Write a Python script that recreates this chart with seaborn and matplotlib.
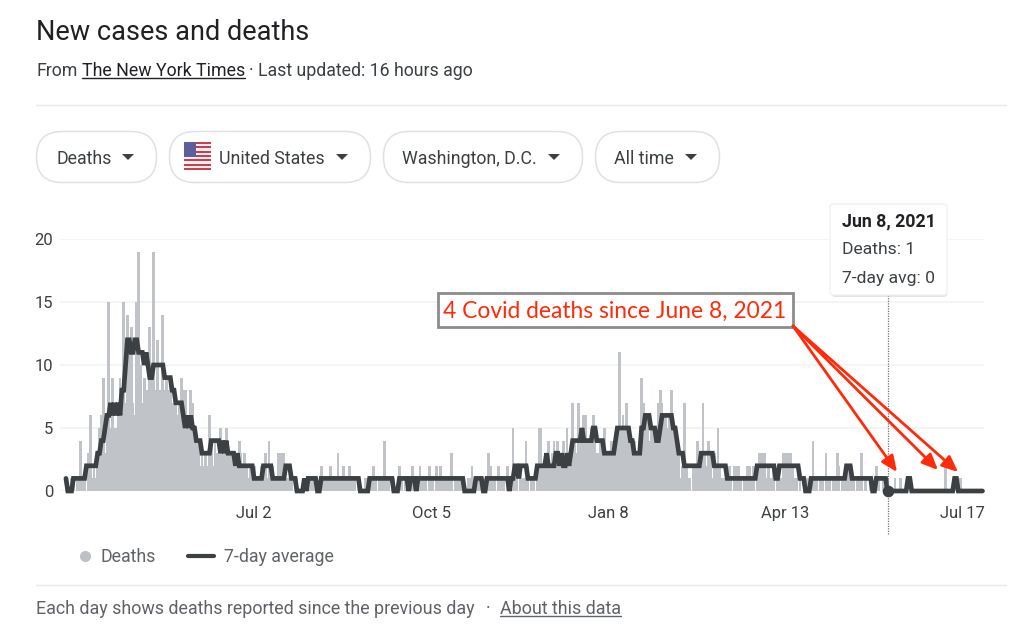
import matplotlib
matplotlib.use("Agg")
import matplotlib.pyplot as plt
from matplotlib.patches import FancyBboxPatch, Rectangle
import numpy as np
import seaborn as sns

# daily values
deaths = [
    1,0,0,1,1,0,1,1,4,1, 1,0,3,6,1,2,1,3,5,6, 9,3,5,15,5,9,5,5,7,9, 8,15,7,14,11,13,7,6,15,19,
    10,7,9,8,8,13,10,19,8,12, 8,8,14,8,9,8,9,7,8,7, 6,7,9,8,8,5,6,8,7,5, 4,4,2,3,2,3,2,6,4,2,
    4,3,3,5,3,3,5,4,3,3, 3,2,2,4,3,2,3,2,1,2, 2,2,1,1,1,2,2,3,1,4, 1,2,1,1,3,3,3,3,1,1,
    1,1,0,1,1,0,0,0,1,0, 1,1,1,1,1,0,0,2,1,1, 1,1,2,1,1,1,3,1,1,2, 1,1,2,1,1,1,0,1,0,0,
    0,1,1,0,1,2,1,0,1,1, 1,4,1,1,0,1,1,0,0,2, 1,0,1,1,1,1,2,1,0,1, 2,1,1,1,0,2,1,1,0,2,
    1,2,1,1,0,1,1,3,0,1, 1,0,1,0,0,0,1,1,2,0, 0,1,1,1,1,0,1,3,2,1, 1,0,2,1,1,1,0,2,0,1,
    5,1,1,0,2,1,1,4,2,0, 1,1,0,1,5,5,2,2,2,4, 2,3,4,2,4,3,2,4,2,5, 3,3,7,4,3,7,4,4,6,6,
    4,4,5,6,5,3,3,4,3,5, 3,3,3,4,4,3,5,11,5,6, 5,7,4,4,3,4,3,3,4,9, 7,6,6,4,5,5,5,5,7,8,
    7,6,6,5,6,8,5,4,3,3, 1,2,7,2,1,1,0,2,2,4, 3,2,7,3,2,4,3,1,3,2, 5,2,1,1,1,1,2,1,0,2,
    2,2,1,0,1,1,2,2,1,2, 0,1,3,3,3,3,1,2,1,1, 2,0,1,1,1,3,3,3,3,3, 2,1,1,0,1,0,0,0,1,0,
    0,4,1,1,0,1,1,0,3,1, 1,0,1,1,3,2,0,1,1,2, 2,1,1,1,0,1,1,3,0,1, 0,0,1,0,0,2,1,0,0,1,
    1,1,0,0,0,1,0,0,1,0, 0,0,1,0,0,0,0,0,0,0, 0,0,0,0,0,0,0,0,0,0, 0,0,2,0,0,0,0,1,1,0,
    1,0,0,0,0,0,0,0,0,0,0,0,0,
]
avg_7day = [
    1,0,0,0,1,1,1,1,1,1, 1,2,2,2,2,2,2,3,3,4, 4,5,6,6,7,6,7,6,7,6, 8,8,10,12,12,11,11,12,12,11,
    11,11,10,11,10,9,9,10,10,10, 10,10,10,9,9,9,9,8,8,7, 7,7,7,6,5,6,5,6,5,5, 4,4,4,3,3,3,3,3,4,4,
    4,4,4,3,4,3,4,3,3,3, 3,2,3,2,2,2,2,2,2,2, 2,1,1,1,1,1,2,2,2,2, 2,1,1,1,1,1,1,1,2,2,
    2,1,1,1,0,0,0,0,1,0, 1,1,1,1,1,0,0,1,1,1, 1,1,1,1,1,1,1,1,1,1, 1,1,1,1,1,1,1,1,0,0,
    0,0,0,1,1,1,1,1,1,1, 1,1,1,1,1,1,0,0,0,1, 1,1,1,1,0,1,1,1,0,1, 1,1,1,1,1,1,1,1,1,1,
    1,1,1,1,1,1,1,1,1,1, 1,1,1,1,0,0,0,0,0,0, 1,1,1,1,0,0,1,1,1,1, 1,1,1,1,1,1,1,1,0,1,
    1,2,2,1,2,2,2,2,1,1, 1,1,1,2,2,2,2,2,3,2, 2,2,2,3,3,2,3,2,2,3, 2,3,4,4,4,4,4,5,4,4,
    4,4,4,5,5,4,4,4,4,3, 3,3,3,3,3,4,5,5,5,5, 5,5,5,4,4,3,3,3,3,5, 5,6,6,6,5,5,5,4,4,5,
    6,6,6,6,6,6,5,5,4,3, 3,3,2,2,2,2,2,2,2,2, 2,3,3,3,3,3,3,3,2,2, 2,2,2,2,2,1,1,1,1,1,
    1,1,1,1,1,1,1,1,1,1, 1,2,2,2,2,2,2,2,2,2, 2,1,1,2,2,2,2,2,2,2, 2,2,2,2,1,1,1,0,0,0,
    1,1,1,1,1,1,1,1,1,1, 1,1,1,1,1,1,1,1,1,2, 2,2,1,1,1,1,1,1,1,1, 1,1,1,0,0,1,1,1,1,1,
    1,0,0,0,0,0,0,0,0,0, 0,0,1,1,0,0,0,0,0,0, 0,0,0,0,0,0,0,0,0,0, 0,0,0,0,0,0,0,1,1,0,
    0,0,0,0,0,0,0,0,0,0,0,0,0,
]
days = list(range(len(deaths)))
tick_days = [101, 196, 291, 386, 481]
tick_labels = ["Jul 2", "Oct 5", "Jan 8", "Apr 13", "Jul 17"]
y_ticks = [0, 5, 10, 15, 20]
selected_day = 441
selected_value = 0

W, H = 1024, 631
DARK = "#3c4043"
GRAY = "#5f6368"
RULE = "#e8eaed"
RED = "#ff2a0a"

sns.set_theme(style="white")
plt.rcParams["font.family"] = ["Roboto", "DejaVu Sans"]

fig = plt.figure(figsize=(W / 100, H / 100), dpi=100)

# chart area, placed in pixels
ax = fig.add_axes([60 / W, 1 - 491 / H, 924 / W, 252 / H])
# a bit wider than one day: the bars in the screenshot are blurred together
sns.barplot(x=days, y=deaths, native_scale=True, width=1.5, color="#c0c3c8", saturation=1,
            linewidth=0, ax=ax, zorder=2)
sns.lineplot(x=days, y=avg_7day, color=DARK, linewidth=3.4, ax=ax, zorder=3, clip_on=False,
             solid_joinstyle="miter", errorbar=None)
ax.set_xlim(-3.2, 492.8)
ax.set_ylim(0, 20)
ax.set_xticks(tick_days)
ax.set_xticklabels(tick_labels)
ax.set_yticks(y_ticks)
ax.set_xlabel("")
ax.set_ylabel("")
ax.grid(axis="y", color="#f1f3f4", linewidth=1.2, zorder=0)
ax.set_axisbelow(True)
sns.despine(ax=ax, left=True, bottom=True, top=True, right=True)
ax.tick_params(axis="x", length=6, width=0.8, color="#dadce0", labelsize=12, labelcolor=DARK, pad=5)
ax.tick_params(axis="y", length=0, labelsize=12, labelcolor=DARK, pad=5)

# hover marker
ax.vlines(selected_day, -3.4, 15.6, color="#70757a", linewidth=0.9, linestyles=(0, (1, 1)),
          clip_on=False, zorder=4)
sns.scatterplot(x=[selected_day], y=[selected_value], color=DARK, s=70, linewidth=0, ax=ax,
                clip_on=False, zorder=5)

# page furniture, in pixel coordinates
ui = fig.add_axes([0, 0, 1, 1], zorder=10)
ui.set_xlim(0, W)
ui.set_ylim(H, 0)
ui.axis("off")
ui.patch.set_alpha(0)

ui.text(36, 33, "New cases and deaths", fontsize=19.5, color="#202124", va="center")
ui.text(36, 71, "From", fontsize=12.8, color=DARK, va="center")
ui.text(82, 71, "The New York Times", fontsize=12.8, color="#202124", va="center")
ui.plot([82, 245], [77.5, 77.5], color="#202124", lw=1)
ui.text(249, 71, "· Last updated: 16 hours ago", fontsize=12.8, color=DARK, va="center")
ui.plot([36, 1006], [105, 105], color=RULE, lw=1)
ui.plot([36, 1006], [585, 585], color=RULE, lw=1)

pills = [(36, 157, "Deaths", 56), (169, 371, "United States", 219),
         (383, 583, "Washington, D.C.", 402), (595, 720, "All time", 614)]
for left, right, label, text_x in pills:
    ui.add_patch(FancyBboxPatch((left + 0.5, 131.5), right - left - 1, 51,
                                boxstyle="round,pad=0,rounding_size=25.5",
                                fc="white", ec="#dfe1e5", lw=1.1))
    ui.text(text_x, 159, label, fontsize=12.8, color=DARK, va="center")
    ui.fill([right - 35, right - 23, right - 29], [154, 154, 160], color=DARK, lw=0)

# flag
for s in range(13):
    ui.add_patch(Rectangle((184, 142 + s * 28 / 13), 27, 28 / 13,
                           fc="#c8404f" if s % 2 == 0 else "#f4f0f0", ec="none"))
ui.add_patch(Rectangle((184, 142), 12, 15, fc="#5b5f9c", ec="none"))

# legend
ui.scatter([85], [556], s=64, color="#bdc1c6", linewidths=0)
ui.text(100, 557.5, "Deaths", fontsize=12.8, color=GRAY, va="center")
ui.plot([188, 214], [556, 556], color=DARK, lw=3, solid_capstyle="round")
ui.text(224, 557.5, "7-day average", fontsize=12.8, color=GRAY, va="center")

# footer
ui.text(36, 609, "Each day shows deaths reported since the previous day", fontsize=12.9, color=GRAY, va="center")
ui.text(486, 609, "·", fontsize=12.9, color=GRAY, va="center")
ui.text(500, 609, "About this data", fontsize=12.9, color=GRAY, va="center")
ui.plot([500, 621], [616, 616], color=GRAY, lw=1)

# tooltip
ui.add_patch(FancyBboxPatch((832, 206), 115, 91, boxstyle="round,pad=0,rounding_size=3",
                            fc="#d5d5d5", ec="none", alpha=0.6))
ui.add_patch(FancyBboxPatch((830, 204), 117, 91, boxstyle="round,pad=0,rounding_size=3",
                            fc="white", ec="#eeeeee", lw=0.8))
ui.text(842, 221, "Jun 8, 2021", fontsize=12.8, fontweight="bold", color="#202124", va="center")
ui.text(842, 249, "Deaths: 1", fontsize=12.6, color=DARK, va="center")
ui.text(842, 279, "7-day avg: 0", fontsize=12.6, color=DARK, va="center")

# annotation
ui.add_patch(Rectangle((437.5, 292.5), 355, 34, fc="white", ec="#8c8c8c", lw=2))
ui.text(443, 311, "4 Covid deaths since June 8, 2021", fontsize=16.4, color=RED, va="center",
        family="Lato")
for target in [(897, 472), (938, 470), (958, 472)]:
    ui.annotate("", xy=target, xytext=(793, 326),
                arrowprops=dict(arrowstyle="-|>,head_width=0.35,head_length=0.8", color=RED,
                                lw=2, shrinkA=0, shrinkB=0))

fig.savefig("out.png", dpi=100, facecolor="white")
